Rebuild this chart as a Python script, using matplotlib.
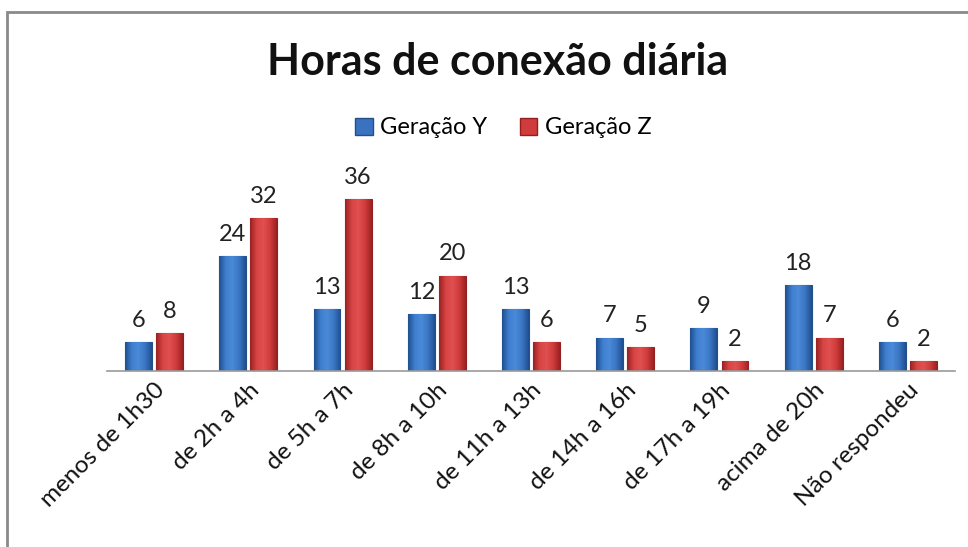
import matplotlib
matplotlib.use("Agg")
import matplotlib.pyplot as plt
import numpy as np
from matplotlib.patches import Rectangle, Patch
from matplotlib.colors import LinearSegmentedColormap

categories = ["menos de 1h30", "de 2h a 4h", "de 5h a 7h", "de 8h a 10h", "de 11h a 13h",
              "de 14h a 16h", "de 17h a 19h", "acima de 20h", "Não respondeu"]
geracao_y = [6, 24, 13, 12, 13, 7, 9, 18, 6]
geracao_z = [8, 32, 36, 20, 6, 5, 2, 7, 2]
series_names = ["Geração Y", "Geração Z"]
title = "Horas de conexão diária"

plt.rcParams['font.family'] = ['Lato', 'DejaVu Sans']

W, H = 968, 547
fig = plt.figure(figsize=(W / 100, H / 100), dpi=100)
fig.patch.set_facecolor("white")

# outer frame
fig.patches.append(Rectangle((7 / W, -0.05), 1.2, 1 - 12 / H + 0.05, transform=fig.transFigure,
                             fill=False, edgecolor="#8a8a8a", lw=2))

ax = fig.add_axes([107 / W, 1 - 371 / H, (955 - 107) / W, 191 / H])
x = np.arange(len(categories))
bw = 0.285
off = 0.165

blue_cmap = LinearSegmentedColormap.from_list("b", ["#1f4f8f", "#3f7fcf", "#4a8ad8", "#3a76c4", "#1f4f8f"])
red_cmap = LinearSegmentedColormap.from_list("r", ["#9a2222", "#d84444", "#e05050", "#d03c3c", "#9a2222"])

bars_y = ax.bar(x - off, geracao_y, bw, color="#3a72c0", edgecolor="#24508a", lw=0.8, zorder=2)
bars_z = ax.bar(x + off, geracao_z, bw, color="#d03c3c", edgecolor="#922020", lw=0.8, zorder=2)

grad = np.linspace(0, 1, 64).reshape(1, -1)
for bars, cmap in ((bars_y, blue_cmap), (bars_z, red_cmap)):
    for b in bars:
        x0, y0 = b.get_x(), b.get_y()
        w, h = b.get_width(), b.get_height()
        im = ax.imshow(grad, cmap=cmap, extent=(x0, x0 + w, y0, y0 + h), aspect="auto", zorder=2.5)
        im.set_clip_path(b)

for bars, vals in ((bars_y, geracao_y), (bars_z, geracao_z)):
    for b, v in zip(bars, vals):
        ax.annotate(str(v), (b.get_x() + b.get_width() / 2, v), xytext=(0, 8),
                    textcoords="offset points", ha="center", va="bottom", fontsize=17, color="#222222")

ax.set_xlim(-0.5, len(categories) - 0.5)
ax.set_ylim(0, 40)
ax.set_xticks(x)
ax.set_xticklabels(categories, rotation=45, ha="right", rotation_mode="anchor", fontsize=17.5, color="#111111")
ax.tick_params(axis="x", length=0, pad=6)
ax.set_yticks([])
for s in ["top", "right", "left"]:
    ax.spines[s].set_visible(False)
ax.spines["bottom"].set_color("#9a9a9a")
ax.spines["bottom"].set_linewidth(1.2)
ax.set_facecolor("none")

fig.text(498 / W, 1 - 62 / H, title, ha="center", va="center", fontsize=31, fontweight="bold", color="#111111")

handles = [Patch(facecolor="#3a72c0", edgecolor="#24508a"), Patch(facecolor="#d03c3c", edgecolor="#922020")]
fig.legend(handles, series_names, loc="center", bbox_to_anchor=(503 / W, 1 - 128 / H), ncol=2, frameon=False,
           fontsize=17, handlelength=0.75, handleheight=0.75, handletextpad=0.3, columnspacing=1.4)

fig.savefig("out.png", dpi=100)
